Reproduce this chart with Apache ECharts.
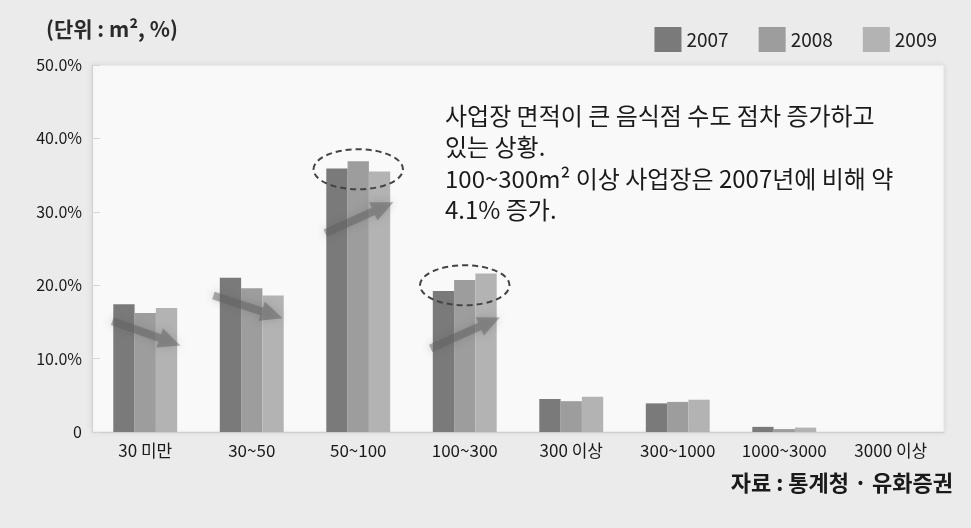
<!DOCTYPE html>
<html><head><meta charset="utf-8">
<script src="https://cdn.jsdelivr.net/npm/echarts@6/dist/echarts.min.js"></script>
<style>html,body{margin:0;padding:0;background:#ebebeb;}#c{width:971px;height:528px;}</style>
</head><body><div id="c"></div>
<script>
const categories = ['30 미만','30~50','50~100','100~300','300 이상','300~1000','1000~3000','3000 이상'];
const seriesNames = ['2007','2008','2009'];
const v2007 = [17.4, 21.0, 35.9, 19.2, 4.5, 3.9, 0.7, 0];
const v2008 = [16.2, 19.6, 36.9, 20.7, 4.2, 4.1, 0.4, 0];
const v2009 = [16.9, 18.6, 35.5, 21.6, 4.8, 4.4, 0.6, 0];
const yTicks = [0, 10, 20, 30, 40, 50];
const colors = ['#7a7a7a', '#9d9d9d', '#b3b3b3'];
const FONT = '"Noto Sans CJK KR", "Noto Sans", sans-serif';

const chart = echarts.init(document.getElementById('c'));
const values = [v2007, v2008, v2009];
chart.setOption({
  backgroundColor: '#ebebeb',
  animation: false,
  textStyle: { fontFamily: FONT },
  grid: { left: 92, right: 27, top: 65, bottom: 96, show: true, backgroundColor: '#f9f9f9', borderColor: '#e2e2e2', borderWidth: 1, shadowColor: 'rgba(0,0,0,0.08)', shadowBlur: 6 },
  legend: {
    right: 29, top: 22, itemWidth: 27, itemHeight: 25, itemGap: 30,
    icon: 'rect',
    textStyle: { fontSize: 19, color: '#222', fontFamily: FONT },
    data: seriesNames
  },
  xAxis: {
    type: 'category', data: categories,
    axisLine: { lineStyle: { color: '#cfcfcf' } },
    axisTick: { inside: true, length: 8, lineStyle: { color: '#cfcfcf' } },
    axisLabel: { interval: 0, fontSize: 17, color: '#1a1a1a', margin: 10, fontFamily: FONT }
  },
  yAxis: {
    type: 'value', min: 0, max: 50, interval: 10,
    axisLine: { show: true, lineStyle: { color: '#cfcfcf' } },
    axisTick: { show: true, inside: true, length: 8, lineStyle: { color: '#d5d5d5' } },
    splitLine: { show: false },
    axisLabel: { fontSize: 16, color: '#1a1a1a', margin: 10, fontFamily: FONT,
      formatter: v => yTicks.includes(v) ? (v === 0 ? '0' : v.toFixed(1) + '%') : '' }
  },
  series: seriesNames.map((n, i) => ({
    name: n, type: 'bar', data: values[i],
    barGap: '0%', barCategoryGap: '40%',
    itemStyle: { color: colors[i] }
  }))
});

// annotations positioned from the data scale
function px(ci, val) { return chart.convertToPixel({ gridIndex: 0 }, [ci, val]); }
const band = px(1, 0)[0] - px(0, 0)[0];
function arrowShape(x1, y1, x2, y2) {
  const dx = x2 - x1, dy = y2 - y1, L = Math.hypot(dx, dy);
  const ux = dx / L, uy = dy / L, nx = -uy, ny = ux;
  const hw = 4, hh = 10, hl = 22;
  const bx = x2 - ux * hl, by = y2 - uy * hl;
  return [[x1 + nx * hw, y1 + ny * hw], [bx + nx * hw, by + ny * hw], [bx + nx * hh, by + ny * hh], [x2, y2],
          [bx - nx * hh, by - ny * hh], [bx - nx * hw, by - ny * hw], [x1 - nx * hw, y1 - ny * hw]];
}
// [category, start value, end value, start offset, end offset] (offsets as band fractions)
const arrows = [[0, 15.1, 11.8, -0.31, 0.33], [1, 18.6, 15.5, -0.36, 0.29], [2, 27.1, 31.3, -0.31, 0.33], [3, 11.4, 15.6, -0.32, 0.33]];
const gfx = [
  { type: 'text', left: 46, top: 19, style: { text: '(단위 : m², %)', fontSize: 21, fontWeight: 'bold', fill: '#2a2a2a', fontFamily: FONT } },
  { type: 'text', right: 18, top: 472, style: { text: '자료 : 통계청 · 유화증권', fontSize: 22, fontWeight: 'bold', fill: '#1a1a1a', fontFamily: FONT } },
  { type: 'text', left: 445, top: 100, style: {
    text: '사업장 면적이 큰 음식점 수도 점차 증가하고\n있는 상황.\n100~300m² 이상 사업장은 2007년에 비해 약\n4.1% 증가.',
    fontSize: 24, lineHeight: 31.5, fill: '#1a1a1a', fontFamily: FONT } }
];
arrows.forEach(([ci, a, b, o1, o2]) => {
  const c = px(ci, 0)[0];
  const y1 = px(ci, a)[1], y2 = px(ci, b)[1];
  gfx.push({ type: 'polygon', shape: { points: arrowShape(c + band * o1, y1, c + band * o2, y2) },
    style: { fill: 'rgba(95,95,95,0.5)', shadowBlur: 8, shadowColor: 'rgba(90,90,90,0.55)' }, z: 100 });
});
[2, 3].forEach(ci => {
  const c = px(ci, 0)[0];
  const top = Math.max(v2007[ci], v2008[ci], v2009[ci]);
  const low = Math.min(v2007[ci], v2008[ci], v2009[ci]);
  const cy = (px(ci, top)[1] + px(ci, low)[1]) / 2 + 3;
  gfx.push({ type: 'ellipse', shape: { cx: c, cy: cy, rx: band * 0.42, ry: 20 },
    style: { fill: 'none', stroke: '#444', lineWidth: 2, lineDash: [6, 4] }, z: 100 });
});
chart.setOption({ graphic: gfx });
</script></body></html>
